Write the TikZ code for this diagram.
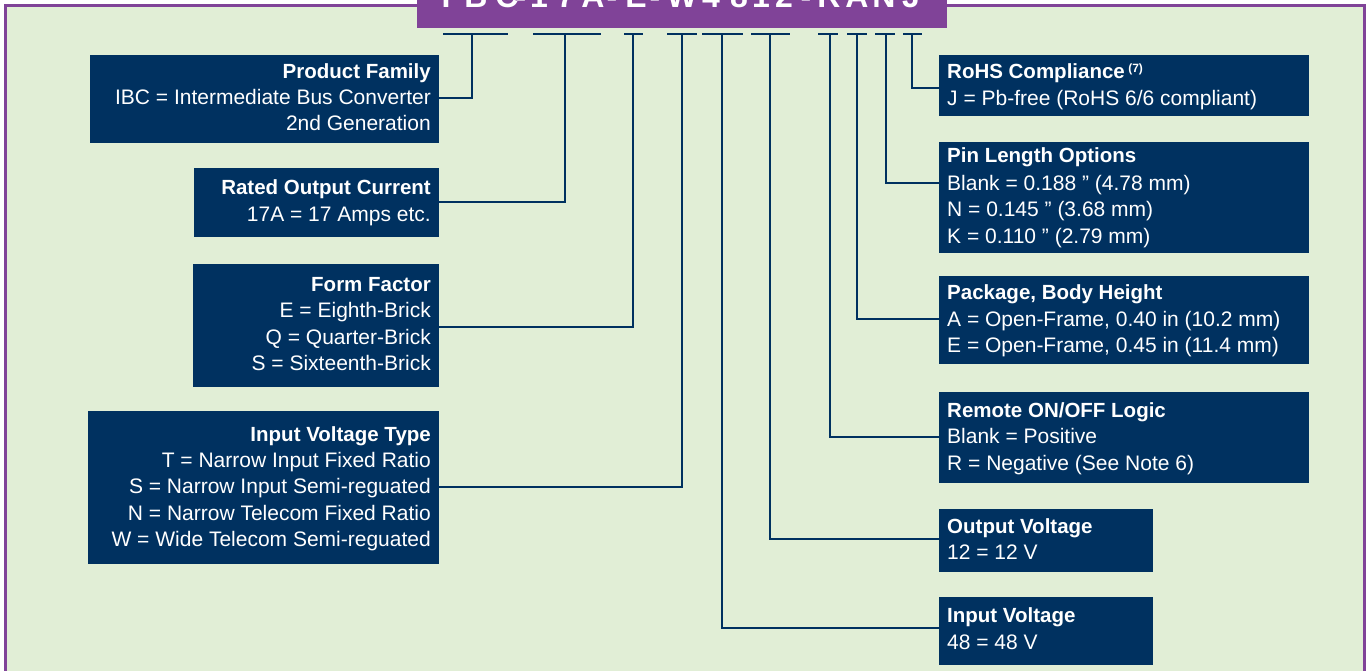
\documentclass[tikz,border=0pt]{standalone}
\usepackage{fontspec}
\setmainfont{Liberation Sans}
\definecolor{bg}{RGB}{225,238,214}
\definecolor{navy}{RGB}{0,49,96}
\definecolor{purp}{RGB}{128,67,152}
\begin{document}
\begin{tikzpicture}[x=1pt,y=-1pt,
  box/.style={fill=navy, draw=none, inner sep=0pt, outer sep=0pt, anchor=north west},
  conn/.style={draw=navy, line width=2.6pt},
  txt/.style={text=white, inner sep=0pt, font=\fontsize{21}{26.5}\selectfont},
  ttl/.style={txt, font=\fontsize{20.5}{26.5}\selectfont\bfseries},
  ban/.style={text=white, inner sep=0pt, anchor=base, font=\fontsize{32}{36}\selectfont\bfseries}]
\useasboundingbox (0,0) rectangle (1370,671);
\clip (0,0) rectangle (1370,671);
\fill[white] (0,0) rectangle (1370,671);
\draw[purp, line width=3pt, fill=bg] (5.5,5.5) rectangle (1364.5,700);
% banner
\fill[purp] (417,-10) rectangle (947,28);
\foreach \c/\x in {I/446,B/476,C/507,-/521,1/539,7/566,A/593,-/612,E/636,-/655,W/682,4/711,8/739,1/761,2/784,-/806,R/829,A/857,N/884,J/911}
  \node[ban] at (\x,7.5) {\c};
% bars
\foreach \a/\b/\m/\n in {443/508/472/1,533/601/565/2,624/643/633/3,667/697/682/4,702/743/722/5,751/790/770/6,818/838/830/7,847/867/857/8,875/895/886/9,903/922/912/10}{
  \draw[conn] (\a,34) -- (\b,34);
  \coordinate (t\n) at (\m,34);
}
% boxes
\node[box, minimum width=349pt, minimum height=88pt] (pf) at (90,55) {};
\node[box, minimum width=245pt, minimum height=69pt] (roc) at (194,168) {};
\node[box, minimum width=246pt, minimum height=123pt] (ff) at (193,264) {};
\node[box, minimum width=351pt, minimum height=153pt] (ivt) at (88,411) {};
\node[box, minimum width=370pt, minimum height=61pt] (rohs) at (939,55) {};
\node[box, minimum width=370pt, minimum height=111pt] (pin) at (939,142) {};
\node[box, minimum width=370pt, minimum height=88pt] (pkg) at (939,276) {};
\node[box, minimum width=370pt, minimum height=91pt] (rem) at (939,392) {};
\node[box, minimum width=214pt, minimum height=63pt] (ov) at (939,509) {};
\node[box, minimum width=214pt, minimum height=68pt] (iv) at (939,597) {};
% texts left
\node[ttl, anchor=base east] (pf1) at (431,78.5) {Product Family};
\node[txt, anchor=base east] (pf2) at (431,104.5) {IBC = Intermediate Bus Converter};
\node[txt, anchor=base east] (pf3) at (431,131) {2nd Generation};
\node[ttl, anchor=base east] (roc1) at (431,195) {Rated Output Current};
\node[txt, anchor=base east] (roc2) at (431,221.5) {17A = 17 Amps etc.};
\node[ttl, anchor=base east] (ff1) at (431,291) {Form Factor};
\node[txt, anchor=base east] (ff2) at (431,317.5) {E = Eighth-Brick};
\node[txt, anchor=base east] (ff3) at (431,344) {Q = Quarter-Brick};
\node[txt, anchor=base east] (ff4) at (431,370.5) {S = Sixteenth-Brick};
\node[ttl, anchor=base east] (ivt1) at (431,441) {Input Voltage Type};
\node[txt, anchor=base east] (ivt2) at (431,467) {T = Narrow Input Fixed Ratio};
\node[txt, anchor=base east] (ivt3) at (431,493.5) {S = Narrow Input Semi-reguated};
\node[txt, anchor=base east] (ivt4) at (431,520) {N = Narrow Telecom Fixed Ratio};
\node[txt, anchor=base east] (ivt5) at (431,546.5) {W = Wide Telecom Semi-reguated};
% texts right
\node[ttl, anchor=base west] (rohs1) at (947,79) {RoHS Compliance\,\raisebox{6pt}{\fontsize{12}{12}\selectfont (7)}};
\node[txt, anchor=base west] (rohs2) at (947,105.5) {J = Pb-free (RoHS 6/6 compliant)};
\node[ttl, anchor=base west] (pin1) at (947,163) {Pin Length Options};
\node[txt, anchor=base west] (pin2) at (947,190) {Blank = 0.188 ” (4.78 mm)};
\node[txt, anchor=base west] (pin3) at (947,216.5) {N = 0.145 ” (3.68 mm)};
\node[txt, anchor=base west] (pin4) at (947,243) {K = 0.110 ” (2.79 mm)};
\node[ttl, anchor=base west] (pkg1) at (947,299) {Package, Body Height};
\node[txt, anchor=base west] (pkg2) at (947,326) {A = Open-Frame, 0.40 in (10.2 mm)};
\node[txt, anchor=base west] (pkg3) at (947,352.5) {E = Open-Frame, 0.45 in (11.4 mm)};
\node[ttl, anchor=base west] (rem1) at (947,417) {Remote ON/OFF Logic};
\node[txt, anchor=base west] (rem2) at (947,443.5) {Blank = Positive};
\node[txt, anchor=base west] (rem3) at (947,470) {R = Negative (See Note 6)};
\node[ttl, anchor=base west] (ov1) at (947,533) {Output Voltage};
\node[txt, anchor=base west] (ov2) at (947,559.5) {12 = 12 V};
\node[ttl, anchor=base west] (iv1) at (947,622.5) {Input Voltage};
\node[txt, anchor=base west] (iv2) at (947,649) {48 = 48 V};
% connectors
\draw[conn] (t1) |- ([yshift=1pt]pf.east);
\draw[conn] (t2) |- ([yshift=0.5pt]roc.east);
\draw[conn] (t3) |- ([yshift=-1.5pt]ff.east);
\draw[conn] (t4) |- ([yshift=0.5pt]ivt.east);
\draw[conn] (t5) |- ([yshift=3pt]iv.west);
\draw[conn] (t6) |- ([yshift=1.5pt]ov.west);
\draw[conn] (t7) |- ([yshift=0.5pt]rem.west);
\draw[conn] (t8) |- ([yshift=1pt]pkg.west);
\draw[conn] (t9) |- ([yshift=14.5pt]pin.west);
\draw[conn] (t10) |- ([yshift=-2.5pt]rohs.west);
\end{tikzpicture}
\end{document}
